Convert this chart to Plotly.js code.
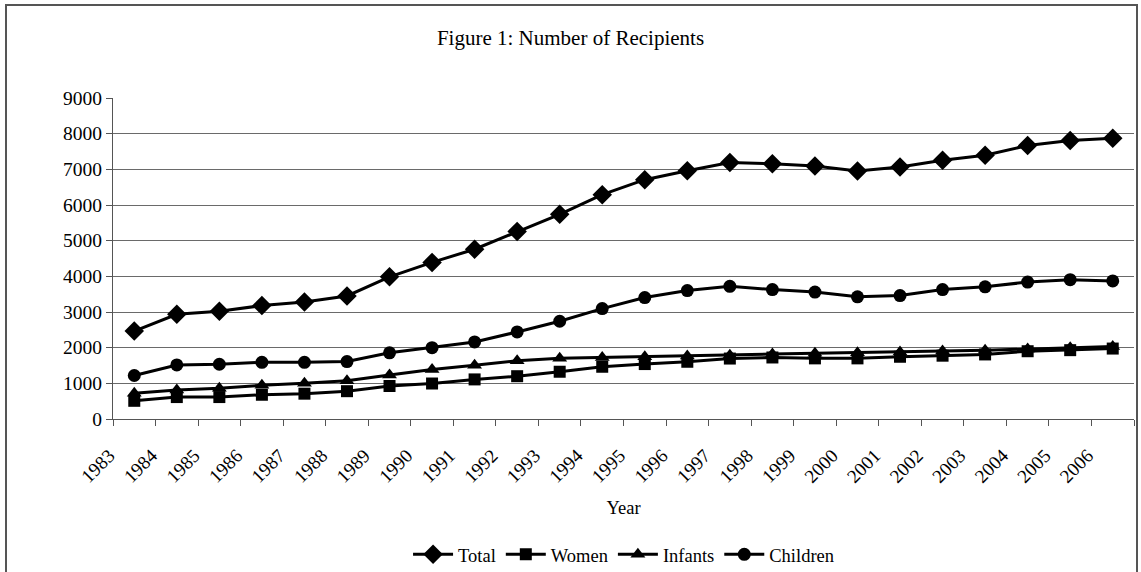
<!DOCTYPE html>
<html>
<head>
<meta charset="utf-8">
<script src="https://cdn.plot.ly/plotly-3.0.1.min.js"></script>
<style>
  html, body { margin: 0; padding: 0; background: #fff; }
  #wrap { position: relative; width: 1141px; height: 572px; overflow: hidden; }
  #chart { position: absolute; left: 0; top: 0; width: 1141px; height: 572px; }
  #frame { position: absolute; left: 5px; top: 4px; width: 1129px; height: 580px;
           border: 2px solid #555; pointer-events: none; }
</style>
</head>
<body>
<div id="wrap">
  <div id="chart"></div>
  <div id="frame"></div>
</div>
<script>
const years = ["1983","1984","1985","1986","1987","1988","1989","1990","1991","1992","1993","1994",
               "1995","1996","1997","1998","1999","2000","2001","2002","2003","2004","2005","2006"];
const total    = [2465, 2935, 3020, 3180, 3280, 3450, 3985, 4390, 4760, 5260, 5740, 6290,
                  6710, 6960, 7190, 7155, 7090, 6955, 7065, 7255, 7395, 7670, 7810, 7875];
const women    = [510, 615, 615, 680, 710, 780, 925, 995, 1110, 1200, 1325, 1465,
                  1540, 1605, 1695, 1725, 1700, 1700, 1745, 1775, 1810, 1900, 1930, 1975];
const infants  = [720, 815, 860, 945, 1000, 1075, 1235, 1385, 1510, 1630, 1700, 1727,
                  1745, 1765, 1790, 1820, 1840, 1855, 1880, 1905, 1925, 1960, 2000, 2035];
const children = [1220, 1515, 1535, 1590, 1590, 1610, 1855, 2000, 2160, 2440, 2740, 3095,
                  3405, 3600, 3720, 3630, 3560, 3425, 3460, 3630, 3705, 3840, 3905, 3870];

const FONT = "'Liberation Serif', 'Times New Roman', serif";

function series(name, y, symbol, size) {
  return {
    type: "scatter", mode: "lines+markers", name: name, x: years, y: y,
    line: { color: "#000", width: 3 },
    marker: { symbol: symbol, size: size, color: "#000", line: { width: 0 } },
    cliponaxis: false
  };
}

const data = [
  series("Total", total, "diamond", 15),
  series("Women", women, "square", 12),
  series("Infants", infants, "triangle-up", 13),
  series("Children", children, "circle", 13)
];

const layout = {
  width: 1141, height: 572,
  margin: { l: 113, r: 7, t: 98, b: 153, autoexpand: false },
  paper_bgcolor: "#fff", plot_bgcolor: "#fff",
  font: { family: FONT, size: 18.5, color: "#000" },
  showlegend: true,
  title: { text: "Figure 1: Number of Recipients", font: { family: FONT, size: 21, color: "#000" },
           x: 0.5, xref: "container", xanchor: "center", y: 0.934, yanchor: "middle" },
  xaxis: {
    type: "category", range: [-0.5, years.length - 0.5], autorange: false,
    tickangle: -45, tickson: "boundaries", automargin: false,
    ticks: "outside", ticklen: 6, tickcolor: "#555", tickwidth: 1,
    showline: true, linecolor: "#555", linewidth: 1,
    showgrid: false, zeroline: false,
    tickfont: { family: FONT, size: 19, color: "#000" },
    ticklabelstandoff: 17, ticklabelshift: -25,
    title: { text: "Year", font: { family: FONT, size: 18.5, color: "#000" }, standoff: 15 }
  },
  yaxis: {
    range: [0, 9000], autorange: false, dtick: 1000, tick0: 0, automargin: false,
    ticks: "outside", ticklen: 6, tickcolor: "#555", tickwidth: 1,
    showline: true, linecolor: "#555", linewidth: 1,
    showgrid: true, gridcolor: "#6a6a6a", gridwidth: 1,
    zeroline: false,
    tickfont: { family: FONT, size: 19.5, color: "#000" }
  },
  legend: {
    orientation: "h", xref: "container", yref: "container",
    x: 0.5465, xanchor: "center", y: 0.03, yanchor: "middle",
    font: { family: FONT, size: 18.5, color: "#000" },
    bgcolor: "rgba(0,0,0,0)", itemwidth: 40, tracegroupgap: 0
  }
};

Plotly.newPlot("chart", data, layout, { displayModeBar: false, staticPlot: true });
</script>
</body>
</html>
